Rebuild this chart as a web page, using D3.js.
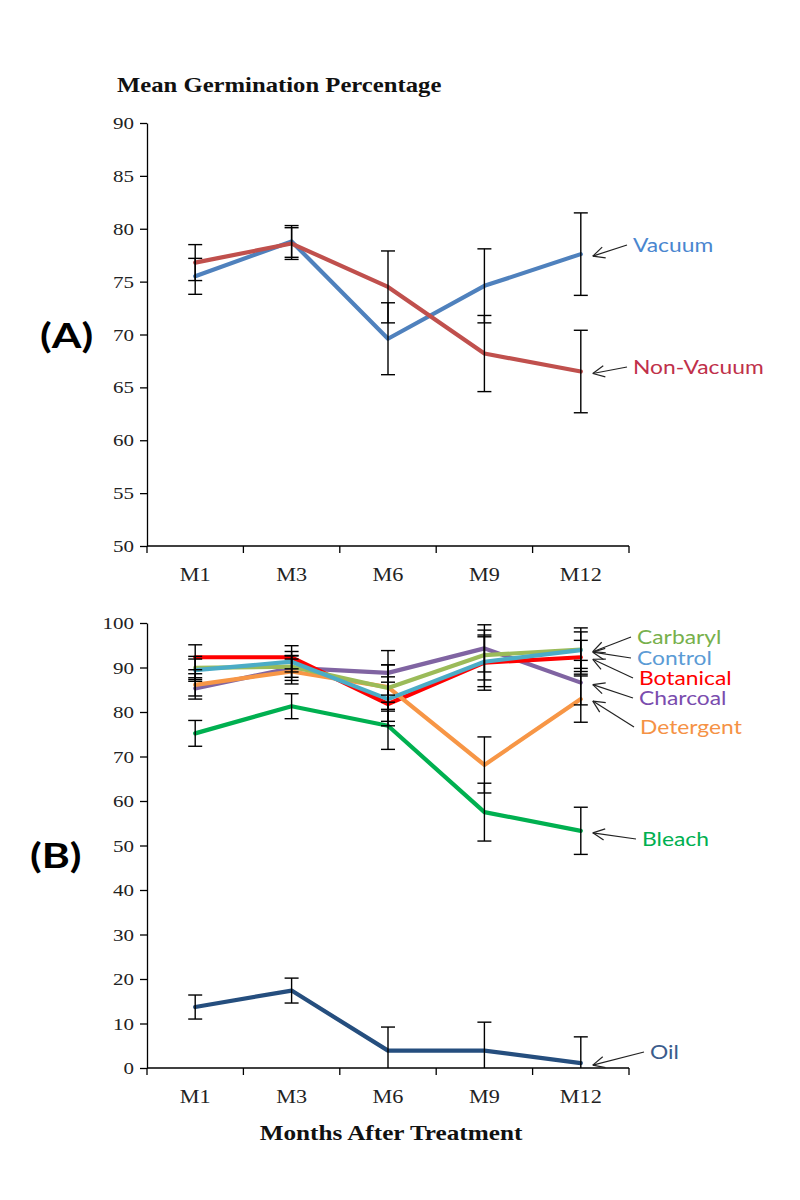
<!DOCTYPE html>
<html>
<head>
<meta charset="utf-8">
<script src="https://cdn.jsdelivr.net/npm/d3@7"></script>
<style>
  html, body { margin: 0; padding: 0; background: #fff; }
  svg { display: block; }
</style>
</head>
<body>
<svg id="chart" width="800" height="1200"></svg>
<script>
// ---------------- DATA ----------------
const months = ["M1", "M3", "M6", "M9", "M12"];

// Panel A
const ticksA = [50, 55, 60, 65, 70, 75, 80, 85, 90];
const vacuum      = [75.5, 78.8, 69.6, 74.6, 77.6];
const vacuumErr   = [1.7, 1.5, 3.4, 3.5, 3.9];
const nonVacuum   = [76.8, 78.6, 74.5, 68.2, 66.5];
const nonVacuumErr= [1.7, 1.5, 3.4, 3.6, 3.9];

// Panel B
const ticksB = [0, 10, 20, 30, 40, 50, 60, 70, 80, 90, 100];
const carbaryl     = [89.9, 90.2, 85.4, 92.8, 94.0];
const carbarylErr  = [2.6, 2.4, 5.2, 5.6, 4.9];
const control      = [89.4, 91.3, 82.9, 91.3, 93.9];
const controlErr   = [2.5, 2.3, 5.0, 5.6, 4.1];
const botanical    = [92.3, 92.3, 81.8, 91.1, 92.3];
const botanicalErr = [2.8, 2.6, 4.9, 6.2, 3.8];
const charcoal     = [85.3, 89.9, 88.8, 94.3, 86.6];
const charcoalErr  = [2.4, 2.8, 5.0, 5.3, 5.0];
const detergent    = [86.1, 89.1, 85.6, 68.1, 82.9];
const detergentErr = [2.5, 2.8, 5.0, 6.3, 5.2];
const bleach       = [75.2, 81.3, 76.9, 57.5, 53.3];
const bleachErr    = [2.9, 2.8, 5.3, 6.5, 5.3];
const oil          = [13.7, 17.4, 3.9, 3.9, 1.1];
const oilErr       = [2.7, 2.8, 5.3, 6.4, 5.9];

// ---------------- LAYOUT / STYLE ----------------
const svg = d3.select("#chart");
const X0 = 147, X1 = 629;
const serif = "'Liberation Serif','Times New Roman',serif";
const sans = "Lato,'Open Sans','Noto Sans',sans-serif";
const STRETCH = 1.2;

const x = d3.scaleBand().domain(months).range([X0, X1]);
const cx = m => x(m) + x.bandwidth() / 2;

function stretchText(sel, k) {
  sel.each(function () {
    const w = this.getComputedTextLength();
    d3.select(this).attr("textLength", w * k).attr("lengthAdjust", "spacingAndGlyphs");
  });
}

function drawPanel(cfg) {
  const y = d3.scaleLinear().domain(cfg.domain).range(cfg.range);
  const g = svg.append("g");

  // y axis
  const yAxis = d3.axisLeft(y).tickValues(cfg.ticks).tickSize(7).tickSizeOuter(0).tickPadding(6);
  const ya = g.append("g").attr("transform", `translate(${X0},0)`).call(yAxis);
  ya.select(".domain").attr("stroke", "#000").attr("stroke-width", 1.3);
  ya.selectAll(".tick line").attr("stroke", "#000").attr("stroke-width", 1.3);
  ya.selectAll(".tick text").attr("font-family", serif).attr("font-size", 17.5).attr("fill", "#222");
  stretchText(ya.selectAll(".tick text"), STRETCH);

  // x axis (ticks between categories)
  const base = y(cfg.domain[0]);
  const xa = g.append("g").attr("transform", `translate(0,${base})`);
  xa.append("line").attr("x1", X0).attr("x2", X1).attr("stroke", "#000").attr("stroke-width", 1.3);
  const bounds = months.map(m => x(m)).concat([X1]);
  xa.selectAll("line.tk").data(bounds).join("line").attr("class", "tk")
    .attr("x1", d => d).attr("x2", d => d).attr("y1", 0).attr("y2", 7)
    .attr("stroke", "#000").attr("stroke-width", 1.3);
  const xl = xa.selectAll("text").data(months).join("text")
    .attr("x", d => cx(d)).attr("y", 35).attr("text-anchor", "middle")
    .attr("font-family", serif).attr("font-size", 18.5).attr("fill", "#222").text(d => d);
  stretchText(xl, STRETCH);

  const line = d3.line().x((d, i) => cx(months[i])).y(d => y(d));

  // series lines
  cfg.series.forEach(s => {
    g.append("path").datum(s.values).attr("d", line)
      .attr("fill", "none").attr("stroke", s.color).attr("stroke-width", 4.2)
      .attr("stroke-linejoin", "round").attr("stroke-linecap", "round");
  });

  // error bars
  cfg.series.forEach(s => {
    s.values.forEach((v, i) => {
      const px = cx(months[i]);
      const lo = Math.max(v - s.err[i], cfg.domain[0]);
      const hi = v + s.err[i];
      g.append("line").attr("x1", px).attr("x2", px).attr("y1", y(lo)).attr("y2", y(hi))
        .attr("stroke", "#000").attr("stroke-width", 1.4);
      g.append("line").attr("x1", px - 7).attr("x2", px + 7).attr("y1", y(hi)).attr("y2", y(hi))
        .attr("stroke", "#000").attr("stroke-width", 1.4);
      if (v - s.err[i] >= cfg.domain[0]) {
        g.append("line").attr("x1", px - 7).attr("x2", px + 7).attr("y1", y(lo)).attr("y2", y(lo))
          .attr("stroke", "#000").attr("stroke-width", 1.4);
      }
    });
  });

  // labels with arrows
  cfg.series.forEach(s => {
    const last = s.values.length - 1;
    const px = cx(months[last]), py = y(s.values[last]);
    const tipX = px + 12, tipY = py + 2;
    const sx = s.labelX - 6, sy = s.labelY;
    g.append("line").attr("x1", sx).attr("y1", sy).attr("x2", tipX).attr("y2", tipY)
      .attr("stroke", "#222").attr("stroke-width", 1.2);
    const ang = Math.atan2(sy - tipY, sx - tipX);
    [0.45, -0.45].forEach(da => {
      g.append("line").attr("x1", tipX).attr("y1", tipY)
        .attr("x2", tipX + 13 * Math.cos(ang + da)).attr("y2", tipY + 13 * Math.sin(ang + da))
        .attr("stroke", "#222").attr("stroke-width", 1.2);
    });
    const t = g.append("text").attr("x", s.labelX).attr("y", sy).attr("dy", "0.35em")
      .attr("font-family", sans).attr("font-size", 19.5).attr("fill", s.textColor).text(s.name);
    stretchText(t, 1.17);
  });

  // panel tag
  const tag = svg.append("text").attr("x", cfg.tagX).attr("y", cfg.tagY).attr("dy", "0.35em")
    .attr("font-family", sans).attr("font-weight", "bold").attr("font-size", 35).attr("fill", "#000")
    .text(cfg.tag);
  stretchText(tag, 1.22);
}

drawPanel({
  domain: [50, 90], range: [546, 123], ticks: ticksA, tag: "(A)", tagX: 40, tagY: 336,
  series: [
    { name: "Vacuum", values: vacuum, err: vacuumErr, color: "#4F81BD", textColor: "#4A86CF", labelX: 633, labelY: 245 },
    { name: "Non-Vacuum", values: nonVacuum, err: nonVacuumErr, color: "#C0504D", textColor: "#C0304A", labelX: 633, labelY: 367 }
  ]
});

drawPanel({
  domain: [0, 100], range: [1068, 623], ticks: ticksB, tag: "(B)", tagX: 30, tagY: 856,
  series: [
    { name: "Bleach", values: bleach, err: bleachErr, color: "#00B050", textColor: "#00B050", labelX: 642, labelY: 839 },
    { name: "Oil", values: oil, err: oilErr, color: "#254E7E", textColor: "#3B5C8C", labelX: 650, labelY: 1052 },
    { name: "Charcoal", values: charcoal, err: charcoalErr, color: "#8064A2", textColor: "#7A4CAE", labelX: 639, labelY: 698 },
    { name: "Botanical", values: botanical, err: botanicalErr, color: "#FF0000", textColor: "#FF0000", labelX: 639, labelY: 678 },
    { name: "Detergent", values: detergent, err: detergentErr, color: "#F79646", textColor: "#F59245", labelX: 640, labelY: 727 },
    { name: "Carbaryl", values: carbaryl, err: carbarylErr, color: "#9BBB59", textColor: "#77B04C", labelX: 637, labelY: 637 },
    { name: "Control", values: control, err: controlErr, color: "#4BACC6", textColor: "#5B9BD5", labelX: 637, labelY: 658 }
  ]
});

// titles
const title = svg.append("text").attr("x", 117).attr("y", 92)
  .attr("font-family", serif).attr("font-weight", "bold").attr("font-size", 21).attr("fill", "#111")
  .text("Mean Germination Percentage");
stretchText(title, 1.175);

const xTitle = svg.append("text").attr("x", 391).attr("y", 1140).attr("text-anchor", "middle")
  .attr("font-family", serif).attr("font-weight", "bold").attr("font-size", 21).attr("fill", "#111")
  .text("Months After Treatment");
stretchText(xTitle, 1.2);
</script>
</body>
</html>
